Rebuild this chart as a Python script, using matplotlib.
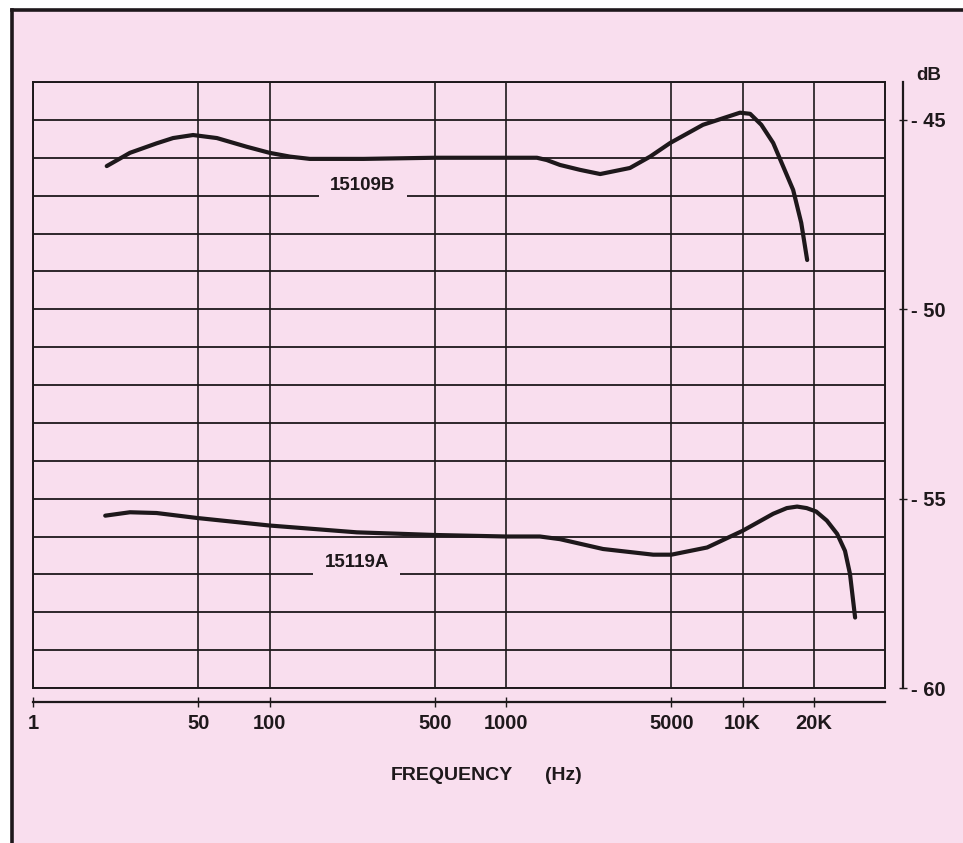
import matplotlib
matplotlib.use('Agg')
import matplotlib.pyplot as plt
from matplotlib.patches import Rectangle
from matplotlib.lines import Line2D
from matplotlib.ticker import NullLocator

# ---- data ----
freq_ticks = [10, 50, 100, 500, 1000, 5000, 10000, 20000]
freq_labels = ['1', '50', '100', '500', '1000', '5000', '10K', '20K']
db_ticks = [-45, -50, -55, -60]
db_labels = ['- 45', '- 50', '- 55', '- 60']
db_grid = list(range(-60, -43))

f_15109B = [20.5, 25.7, 33.3, 39.1, 47.5, 59.9, 80.1, 100, 122, 148, 250, 500,
            1000, 1350, 1486, 1690, 2055, 2500, 3340, 4064, 4940, 6800, 9750,
            10760, 12000, 13470, 16360, 17700, 18750]
db_15109B = [-46.22, -45.87, -45.62, -45.48, -45.40, -45.48, -45.71, -45.87, -45.97,
             -46.03, -46.03, -46.0, -46.0, -46.0, -46.06, -46.19, -46.32, -46.43,
             -46.27, -45.97, -45.61, -45.13, -44.81, -44.84, -45.13, -45.61,
             -46.85, -47.72, -48.70]

f_15119A = [20.2, 25.7, 33.3, 49.2, 100, 234, 500, 1000, 1390, 1690, 2570, 4190,
            5000, 7080, 10000, 13470, 15380, 17000, 18660, 20460, 22700, 25100,
            27100, 28450, 29900]
db_15119A = [-55.45, -55.36, -55.38, -55.51, -55.71, -55.89, -55.96, -56.0, -56.0,
             -56.07, -56.33, -56.48, -56.48, -56.29, -55.85, -55.40, -55.25, -55.21,
             -55.25, -55.34, -55.58, -55.93, -56.38, -56.99, -58.14]

PINK = '#F9DEEE'
INK = '#1e181b'

plt.rcParams['font.family'] = ['Liberation Sans', 'DejaVu Sans']
plt.rcParams['font.weight'] = 'bold'

W, H = 963, 843
fig = plt.figure(figsize=(W / 100, H / 100), dpi=100, facecolor='white')

def fx(px):
    return px / W

def fy(py):
    return 1 - py / H

# pink page and black border (left + top)
fig.patches.append(Rectangle((fx(12), 0), 1 - fx(12), fy(10), transform=fig.transFigure,
                             facecolor=PINK, edgecolor='none', zorder=-10))
fig.lines.append(Line2D([fx(12), fx(12)], [0, fy(10)], transform=fig.transFigure,
                        color=INK, lw=2.6, zorder=10))
fig.lines.append(Line2D([fx(12), 1], [fy(10), fy(10)], transform=fig.transFigure,
                        color=INK, lw=2.6, zorder=10))

ax = fig.add_axes([fx(33), fy(688), fx(885) - fx(33), fy(82) - fy(688)])
ax.set_facecolor(PINK)
ax.set_xscale('log')
ax.set_xlim(10, 40000)
ax.set_ylim(-60, -44)
ax.xaxis.set_minor_locator(NullLocator())
ax.tick_params(left=False, bottom=False, labelleft=False, labelbottom=False)
for s in ax.spines.values():
    s.set_linewidth(1.4)
    s.set_color(INK)

for d in db_grid:
    ax.axhline(d, color=INK, lw=1.3, zorder=1)
for f in freq_ticks:
    ax.axvline(f, color=INK, lw=1.2, zorder=1)

ax.plot(f_15109B, db_15109B, color=INK, lw=3.0, solid_capstyle='round',
        solid_joinstyle='round', zorder=5)
ax.plot(f_15119A, db_15119A, color=INK, lw=3.0, solid_capstyle='round',
        solid_joinstyle='round', zorder=5)

box = dict(boxstyle='square,pad=0.6', facecolor=PINK, edgecolor='none')
ax.text(248, -46.72, '15109B', fontsize=13.5, color=INK, ha='center', va='center',
        bbox=box, zorder=3)
ax.text(234, -56.69, '15119A', fontsize=13.5, color=INK, ha='center', va='center',
        bbox=box, zorder=3)

# detached frequency axis below
secx = ax.secondary_xaxis(-0.023)
secx.set_xticks(freq_ticks, labels=freq_labels)
secx.xaxis.set_minor_locator(NullLocator())
secx.tick_params(direction='inout', length=7, width=1.0, labelsize=14.5,
                 pad=5, colors=INK)
secx.spines['bottom'].set_linewidth(1.6)
secx.spines['bottom'].set_color(INK)

# detached dB axis on the right
secy = ax.secondary_yaxis(1 + 18 / 852)
secy.set_yticks(db_ticks, labels=db_labels)
secy.yaxis.set_minor_locator(NullLocator())
secy.tick_params(direction='inout', length=6, width=1.0, labelsize=14.5,
                 pad=3, colors=INK)
secy.spines['right'].set_linewidth(1.6)
secy.spines['right'].set_color(INK)

fig.text(fx(929), fy(75), 'dB', fontsize=13.5, color=INK, ha='center', va='center')
fig.text(fx(452), fy(775), 'FREQUENCY', fontsize=14, color=INK, ha='center', va='center')
fig.text(fx(563), fy(775), '(Hz)', fontsize=14, color=INK, ha='center', va='center')

fig.savefig('out.png', dpi=100, facecolor='white')
